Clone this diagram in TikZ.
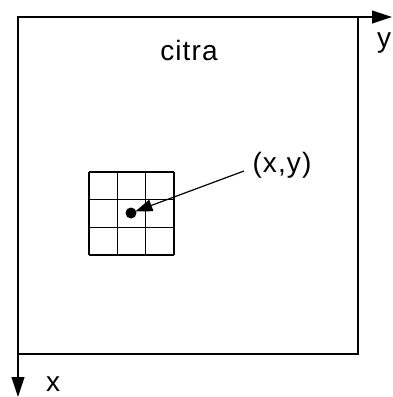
\documentclass[tikz,border=0pt]{standalone}
\usepackage{fontspec}
\setmainfont{Liberation Sans}
\usetikzlibrary{arrows.meta}
\tikzset{
  lbl/.style={font=\fontsize{28}{32}\selectfont\addfontfeature{LetterSpace=4}, inner sep=0pt},
  axis/.style={line width=1.2pt, -{Triangle[length=20pt,width=13pt]}},
  thin/.style={line width=1.2pt},
  pointer/.style={line width=1.2pt, -{Triangle[length=17pt,width=12pt]}, shorten >=-1pt}
}
\begin{document}
\begin{tikzpicture}[x=1pt,y=-1pt]
\useasboundingbox (0,0) rectangle (392,397);
% image frame
\coordinate (O) at (18,17);
\coordinate (yend) at (392,17);
\coordinate (xend) at (18,397);
\draw[thin] (O) rectangle (358,354);
\draw[axis] (O) -- (yend);
\draw[axis] (O) -- (xend);
\node[lbl] (ylab) at (384,43) {y};
\node[lbl] (xlab) at (53,384) {x};
\node[lbl] (citra) at (189,50) {citra};
% grid
\foreach \i in {0,1,2,3} {
  \draw[thin] ({89+\i*28.33},172) -- ({89+\i*28.33},255);
  \draw[thin] (89,{172+\i*27.67}) -- (174,{172+\i*27.67});
}
\node[circle, fill=black, inner sep=0pt, minimum size=11pt] (pt) at (131,213) {};
\node[lbl] (xy) at (282,165) {(x,y)};
\coordinate (start) at (244,171);
\draw[pointer] (start) -- (pt);
\end{tikzpicture}
\end{document}
